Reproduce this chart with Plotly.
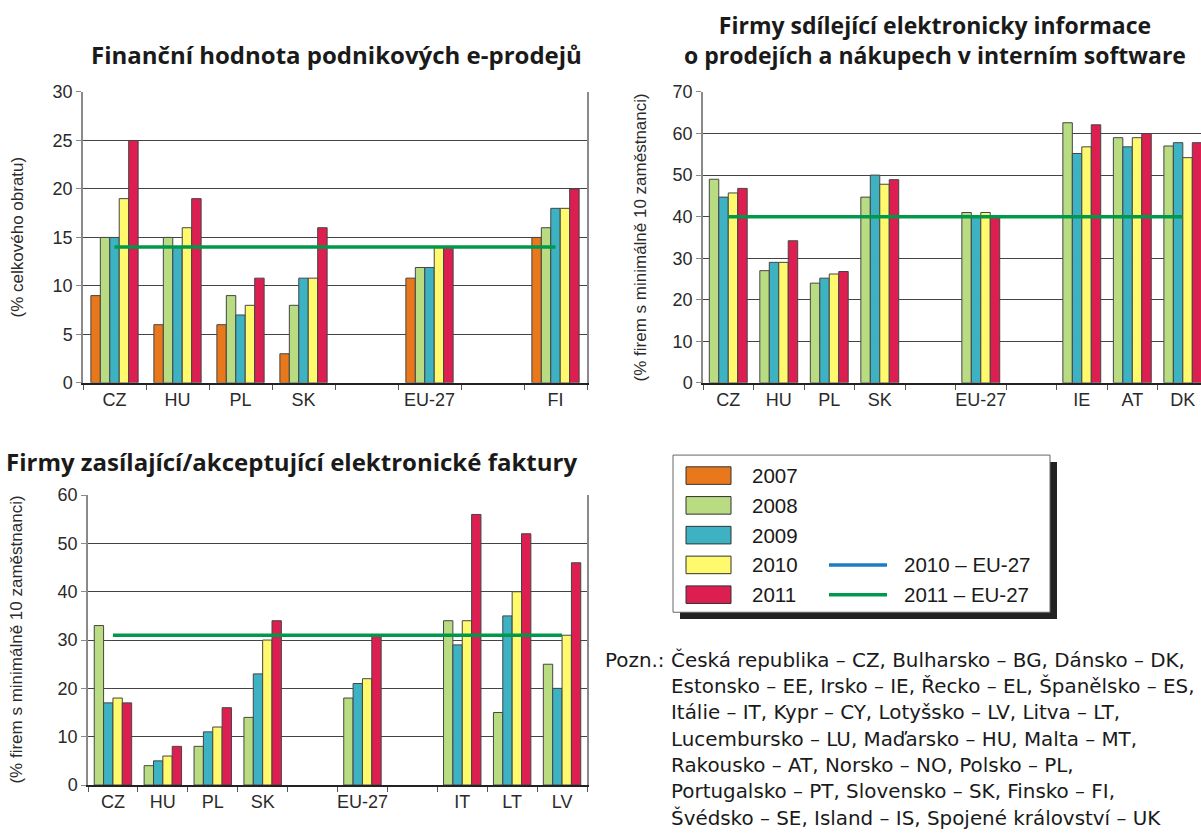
import plotly.graph_objects as go

# --- data ---------------------------------------------------------------
years = ["2007", "2008", "2009", "2010", "2011"]
colors = ["#E8781B", "#B9DC82", "#3CB2C3", "#FFF96E", "#DC1F50"]
eu_line_labels = ["2010 – EU-27", "2011 – EU-27"]
eu_line_colors = ["#1B7DC1", "#00984A"]

# chart 1: Finanční hodnota podnikových e-prodejů
cats1 = ["CZ", "HU", "PL", "SK", " ", "EU-27", "  ", "FI"]
sales_2007 = [9, 6, 6, 3, None, 10.8, None, 15]
sales_2008 = [15, 15, 9, 8, None, 11.9, None, 16]
sales_2009 = [15, 14, 7, 10.8, None, 11.9, None, 18]
sales_2010 = [19, 16, 8, 10.8, None, 14, None, 18]
sales_2011 = [25, 19, 10.8, 16, None, 14, None, 20]
sales_eu_2011 = 14

# chart 2: Firmy sdílející elektronicky informace ...
cats2 = ["CZ", "HU", "PL", "SK", " ", "EU-27", "  ", "IE", "AT", "DK"]
share_2008 = [49, 27, 24, 44.7, None, 41, None, 62.6, 59, 57]
share_2009 = [44.7, 29, 25.2, 50, None, 40, None, 55.2, 56.8, 57.8]
share_2010 = [45.7, 29, 26.2, 47.8, None, 41, None, 56.8, 59, 54.2]
share_2011 = [46.8, 34.2, 26.8, 48.9, None, 40, None, 62.1, 60, 57.8]
share_eu_2011 = 40

# chart 3: Firmy zasílající/akceptující elektronické faktury
cats3 = ["CZ", "HU", "PL", "SK", " ", "EU-27", "  ", "IT", "LT", "LV"]
inv_2008 = [33, 4, 8, 14, None, 18, None, 34, 15, 25]
inv_2009 = [17, 5, 11, 23, None, 21, None, 29, 35, 20]
inv_2010 = [18, 6, 12, 30, None, 22, None, 34, 40, 31]
inv_2011 = [17, 8, 16, 34, None, 31, None, 56, 52, 46]
inv_eu_2011 = 31

title1 = "Finanční hodnota podnikových e-prodejů"
title2 = "Firmy sdílející elektronicky informace<br>o prodejích a nákupech v interním software"
title3 = "Firmy zasílající/akceptující elektronické faktury"
ytitle1 = "(% celkového obratu)"
ytitle2 = "(% firem s minimálně 10 zaměstnanci)"
note_head = "Pozn.:"
note_lines = [
    "Česká republika – CZ, Bulharsko – BG, Dánsko – DK,",
    "Estonsko – EE, Irsko – IE, Řecko – EL, Španělsko – ES,",
    "Itálie – IT, Kypr – CY, Lotyšsko – LV, Litva – LT,",
    "Lucembursko – LU, Maďarsko – HU, Malta – MT,",
    "Rakousko – AT, Norsko – NO, Polsko – PL,",
    "Portugalsko – PT, Slovensko – SK, Finsko – FI,",
    "Švédsko – SE, Island – IS, Spojené království – UK",
]

W, H = 1201, 836


def px(x):
    return x / W


def py(y):
    return 1 - y / H


TICK_FONT = dict(family="Liberation Sans, Arial", size=18, color="#2a2a2a")
TEXT_FONT = "Open Sans, Noto Sans"

fig = go.Figure()


def add_bars(cats, series, year_idx, xa, ya):
    for vals, i in zip(series, year_idx):
        fig.add_trace(go.Bar(
            x=cats, y=vals, name=years[i], xaxis=xa, yaxis=ya,
            marker=dict(color=colors[i], line=dict(color="#454545", width=1)),
            showlegend=False,
        ))


def add_eu_line(cats, val, xa, ya):
    fig.add_trace(go.Scatter(
        x=[cats[0], cats[-1]], y=[val, val], mode="lines",
        xaxis=xa, yaxis=ya, line=dict(color=eu_line_colors[1], width=3.5),
        showlegend=False,
    ))


add_bars(cats1, [sales_2007, sales_2008, sales_2009, sales_2010, sales_2011],
         [0, 1, 2, 3, 4], "x", "y")
add_eu_line(cats1, sales_eu_2011, "x", "y")
add_bars(cats2, [share_2008, share_2009, share_2010, share_2011],
         [1, 2, 3, 4], "x2", "y2")
add_eu_line(cats2, share_eu_2011, "x2", "y2")
add_bars(cats3, [inv_2008, inv_2009, inv_2010, inv_2011],
         [1, 2, 3, 4], "x3", "y3")
add_eu_line(cats3, inv_eu_2011, "x3", "y3")


def xaxis(cats, dom, anchor, rng):
    return dict(domain=dom, anchor=anchor, type="category",
                categoryorder="array", categoryarray=cats, range=rng,
                showline=True, linecolor="#222", linewidth=1.5,
                ticks="outside", tickson="boundaries", ticklen=5,
                tickcolor="#555", tickfont=TICK_FONT, tickangle=0,
                showgrid=False, fixedrange=True)


def yaxis(dom, anchor, rng, dtick, mirror=True):
    return dict(domain=dom, anchor=anchor, range=rng, dtick=dtick,
                showline=True, linecolor="#8a8a8a", linewidth=1.5,
                mirror=mirror, ticks="outside", ticklen=5,
                tickcolor="#8a8a8a", tickfont=TICK_FONT,
                showgrid=True, gridcolor="#444", gridwidth=1,
                zeroline=False, fixedrange=True)


fig.update_layout(
    width=W, height=H, margin=dict(l=0, r=0, t=0, b=0),
    paper_bgcolor="white", plot_bgcolor="white",
    barmode="group", bargap=0.25, bargroupgap=0,
    xaxis=xaxis(cats1, [px(83), px(587)], "y", [-0.5, 7.5]),
    yaxis=yaxis([py(382), py(84)], "x", [0, 30], 5),
    xaxis2=xaxis(cats2, [px(703), 1.0], "y2", [-0.5, 9.36]),
    yaxis2=yaxis([py(382), py(84)], "x2", [0, 70], 10, mirror=False),
    xaxis3=xaxis(cats3, [px(88), px(587)], "y3", [-0.5, 9.5]),
    yaxis3=yaxis([py(794), py(497)], "x3", [0, 60], 10),
)

ann = []
title_font = dict(family=TEXT_FONT, size=24, color="#1a1a1a", weight="bold")
ann.append(dict(x=px(336), y=py(46), text=title1, font=title_font))
ann.append(dict(x=px(935), y=py(31), text=title2,
                font=dict(title_font, size=23)))
ann.append(dict(x=px(291), y=py(463), text=title3, font=title_font))

yt_font = dict(family="Liberation Sans, Arial", size=17, color="#2a2a2a")
ann.append(dict(x=px(17), y=py(233), text=ytitle1, textangle=-90, font=yt_font))
ann.append(dict(x=px(640), y=py(233), text=ytitle2, textangle=-90, font=yt_font))
ann.append(dict(x=px(17), y=py(645), text=ytitle2, textangle=-90, font=yt_font))

# legend box
shapes = [
    dict(type="rect", xref="paper", yref="paper", x0=px(680), x1=px(1057),
         y0=py(624), y1=py(463), fillcolor="#222", line=dict(width=0)),
    dict(type="rect", xref="paper", yref="paper", x0=px(673), x1=px(1050),
         y0=py(617), y1=py(456), fillcolor="white",
         line=dict(color="#666", width=1)),
]
leg_font = dict(family="Liberation Sans, Arial", size=20.5, color="#1a1a1a")
for i, yr in enumerate(years):
    yc = 477 + 30.5 * i
    shapes.append(dict(type="rect", xref="paper", yref="paper",
                       x0=px(686), x1=px(731), y0=py(yc + 9), y1=py(yc - 9),
                       fillcolor=colors[i], line=dict(color="#333", width=1)))
    ann.append(dict(x=px(750), y=py(yc), text=yr, xanchor="left", font=leg_font))
for j, (lab, col) in enumerate(zip(eu_line_labels, eu_line_colors)):
    yc = 477 + 30.5 * (3 + j)
    shapes.append(dict(type="line", xref="paper", yref="paper",
                       x0=px(829), x1=px(887), y0=py(yc), y1=py(yc),
                       line=dict(color=col, width=3.5)))
    ann.append(dict(x=px(902), y=py(yc), text=lab, xanchor="left", font=leg_font))

note_font = dict(family="DejaVu Sans", size=19.9, color="#1a1a1a")
ann.append(dict(x=px(667), y=py(666), text=note_head, xanchor="right",
                font=note_font))
for k, line in enumerate(note_lines):
    ann.append(dict(x=px(669), y=py(666 + 27 * k), text=line, xanchor="left",
                    font=note_font))

for a in ann:
    a.setdefault("xref", "paper")
    a.setdefault("yref", "paper")
    a.setdefault("xanchor", "center")
    a.setdefault("yanchor", "middle")
    a["showarrow"] = False

fig.update_layout(annotations=ann, shapes=shapes)

fig.write_html("out.html", config={"displayModeBar": False},
               post_script="document.body.style.margin='0px';")
